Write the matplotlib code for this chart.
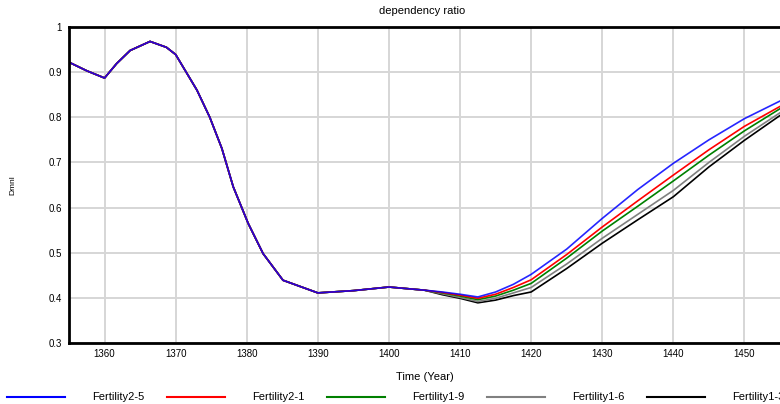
import matplotlib.pyplot as plt
from matplotlib.lines import Line2D

plt.rcParams['font.family'] = ['Liberation Sans', 'DejaVu Sans']

# shared part of the run (all scenarios identical up to ~1405)
years_common = [1355, 1357.5, 1360, 1361.7, 1363.6, 1366.4, 1368.7, 1370, 1373,
                1374.8, 1376.5, 1378.1, 1380.2, 1382.3, 1385.1, 1390, 1395, 1400, 1405]
ratio_common = [0.922, 0.903, 0.887, 0.919, 0.948, 0.968, 0.955, 0.939, 0.86,
                0.80, 0.731, 0.646, 0.565, 0.498, 0.439, 0.411, 0.416, 0.424, 0.417]

# after 1405 the scenarios split
years_split = [1407.5, 1410, 1412.5, 1415, 1417.5, 1420, 1425, 1430, 1435, 1440, 1445, 1450, 1455]
fert_2_5 = [0.413, 0.408, 0.402, 0.413, 0.430, 0.452, 0.508, 0.576, 0.640, 0.698, 0.750, 0.797, 0.836]
fert_2_1 = [0.412, 0.406, 0.399, 0.408, 0.423, 0.440, 0.496, 0.557, 0.615, 0.672, 0.728, 0.780, 0.824]
fert_1_9 = [0.411, 0.404, 0.396, 0.404, 0.417, 0.432, 0.488, 0.548, 0.603, 0.659, 0.716, 0.770, 0.819]
fert_1_6 = [0.409, 0.401, 0.392, 0.399, 0.411, 0.423, 0.475, 0.532, 0.585, 0.638, 0.700, 0.758, 0.810]
fert_1_3 = [0.407, 0.399, 0.389, 0.395, 0.405, 0.413, 0.465, 0.521, 0.573, 0.624, 0.690, 0.749, 0.804]

names = ['Fertility2-5', 'Fertility2-1', 'Fertility1-9', 'Fertility1-6', 'Fertility1-3']
colors = ['#0000ff', '#ff0000', '#008000', '#808080', '#000000']
series = [fert_2_5, fert_2_1, fert_1_9, fert_1_6, fert_1_3]

fig = plt.figure(figsize=(7.8, 4.04), dpi=100)
ax = fig.add_axes([69/780, 1 - 343/404, 1 - 69/780, (343 - 27)/404])

# draw black first so blue ends up on top
for name, col, vals in reversed(list(zip(names, colors, series))):
    alpha = 0.85 if col == '#0000ff' else 1.0
    ax.plot(years_common + years_split, ratio_common + vals, color=col,
            lw=1.2, alpha=alpha, label=name)

ax.set_xlim(1355, 1455)
ax.set_ylim(0.3, 1.0)
ax.set_xticks(range(1360, 1451, 10))
ax.set_yticks([0.3, 0.4, 0.5, 0.6, 0.7, 0.8, 0.9, 1.0])
ax.set_yticklabels(['0.3', '0.4', '0.5', '0.6', '0.7', '0.8', '0.9', '1'])
ax.grid(True, color='#d6d6d6', lw=1.4)
ax.set_axisbelow(True)
ax.tick_params(length=0, labelsize=7, pad=4)
ax.tick_params(axis='y', pad=5)
for s in ['left', 'top', 'bottom']:
    ax.spines[s].set_linewidth(2)
ax.spines['right'].set_visible(False)

ax.set_title('dependency ratio', fontsize=8, pad=9, x=(422 - 69) / (780 - 69))
fig.text(425/780, 1 - 377/404, 'Time (Year)', fontsize=8, ha='center', va='center')
fig.text(13/780, 1 - 185/404, 'Dmnl', fontsize=6, rotation=90, ha='center', va='center')

# legend row along the bottom
for i, (name, col) in enumerate(zip(names, colors)):
    x0 = 7 + 160 * i
    fig.add_artist(Line2D([x0/780, (x0 + 58)/780], [1 - 397/404] * 2,
                          color=col, lw=1.5, transform=fig.transFigure))
    fig.text((x0 + 85)/780, 1 - 397/404, name, fontsize=8, va='center')

fig.savefig('out.png', dpi=100)
